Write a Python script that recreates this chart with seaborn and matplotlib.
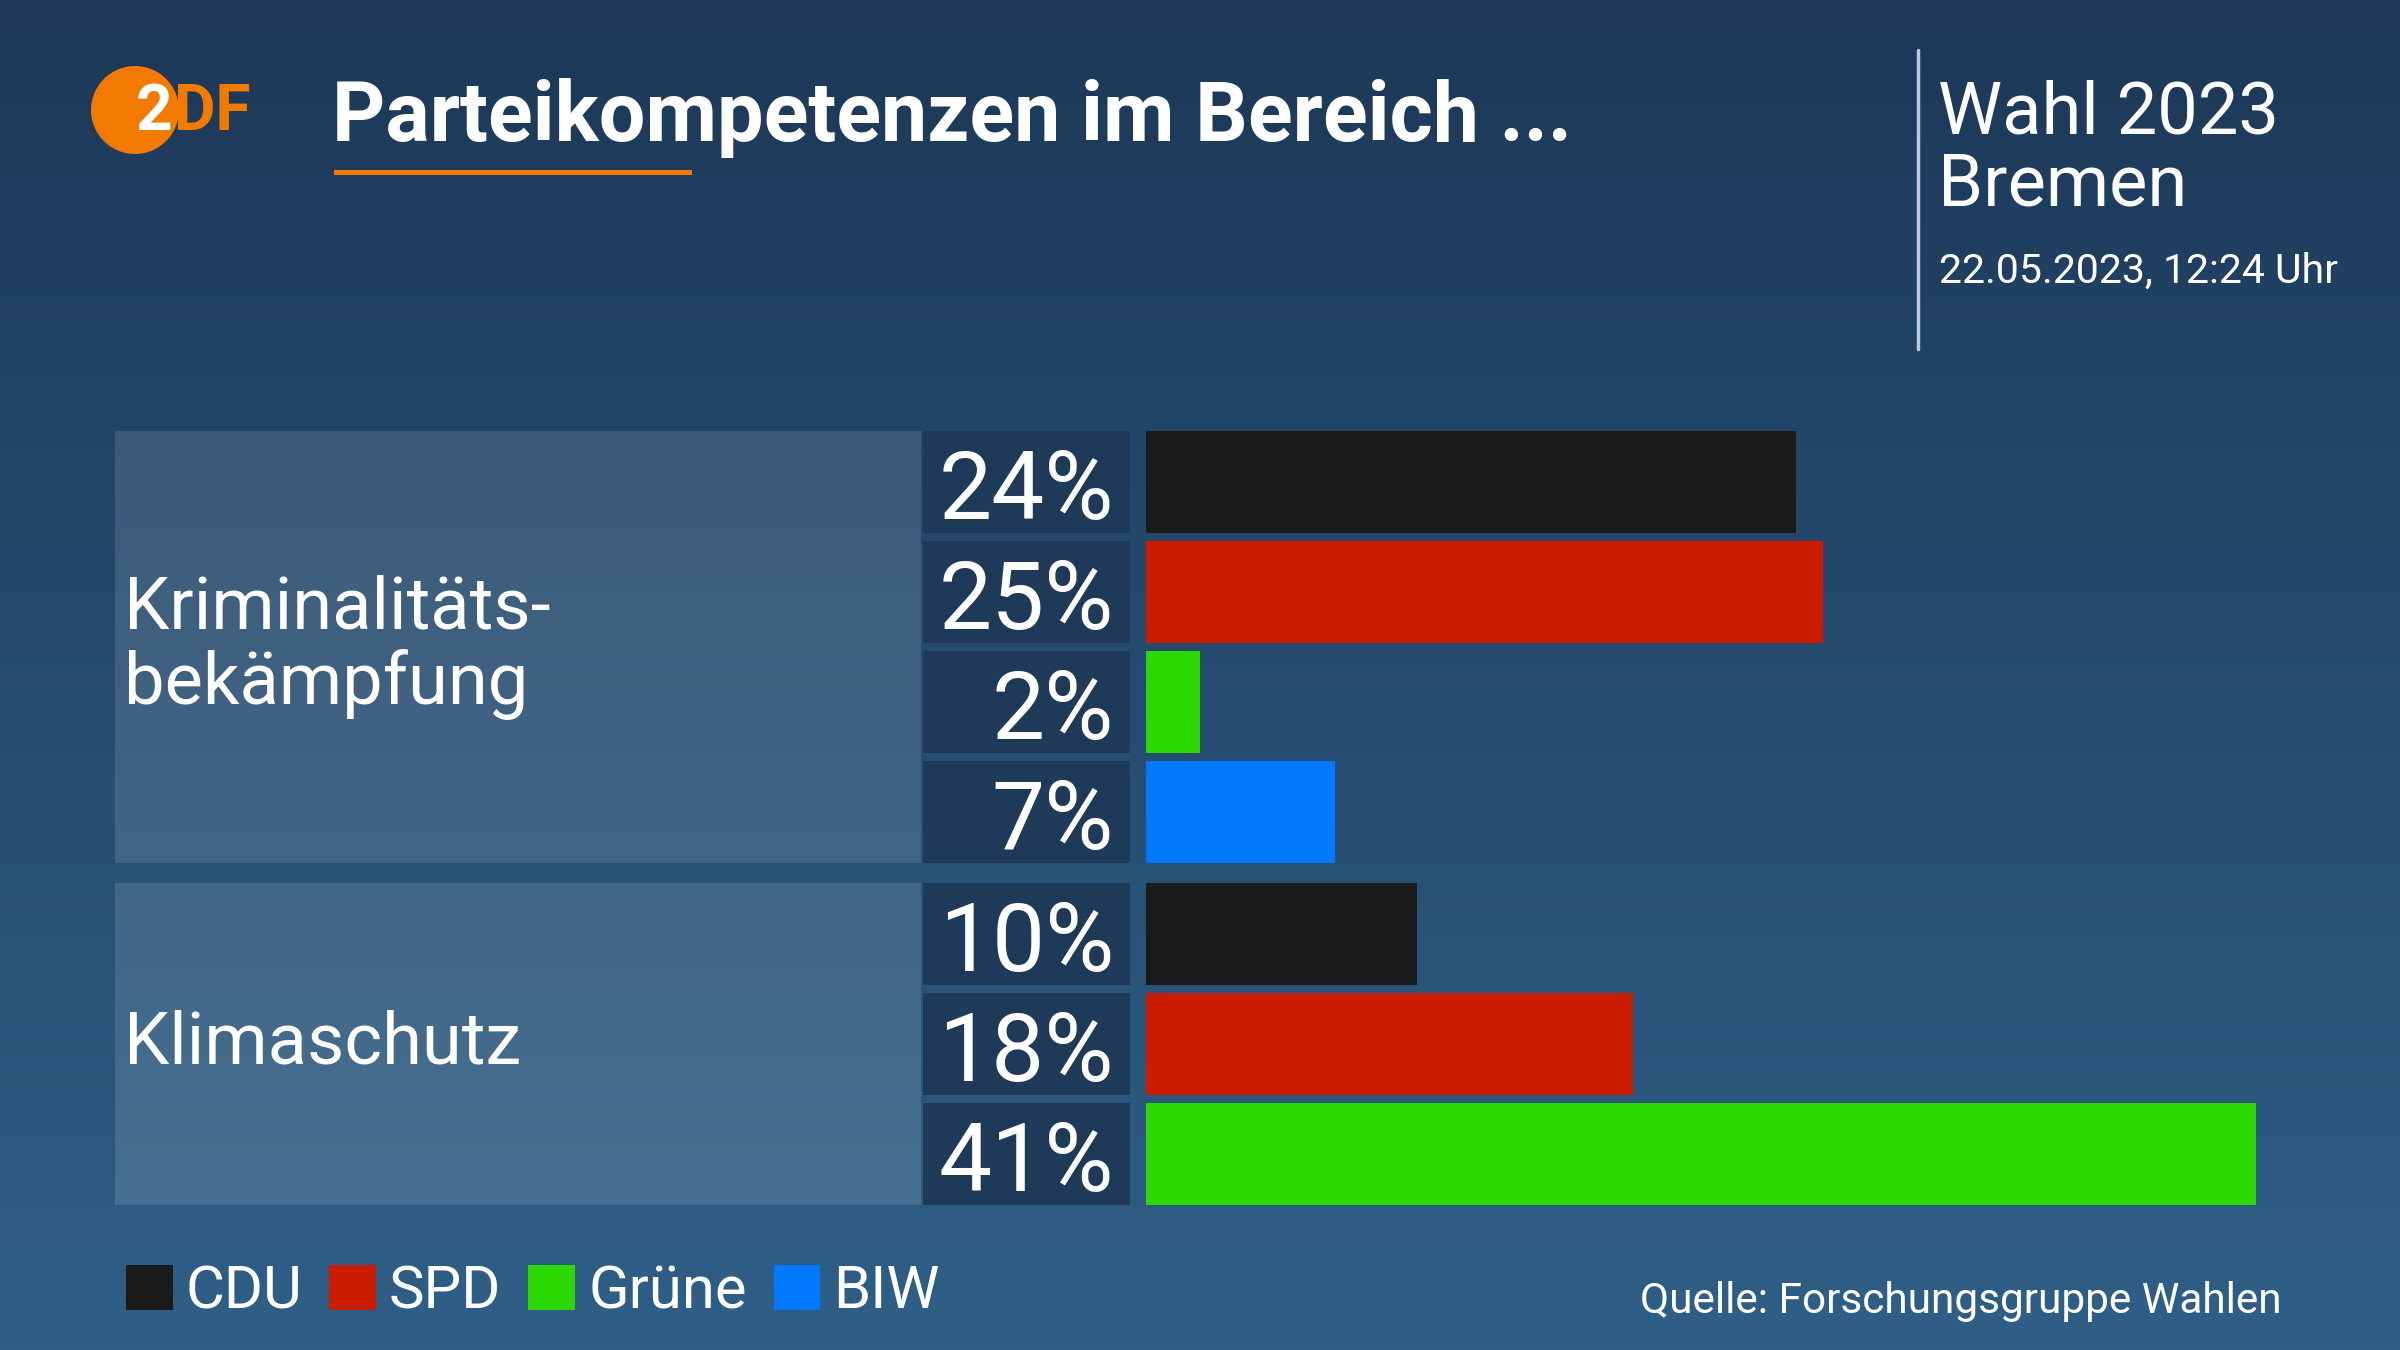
import numpy as np
import pandas as pd
import seaborn as sns
import matplotlib.pyplot as plt
from matplotlib.patches import Rectangle, Ellipse, Patch
from matplotlib.transforms import blended_transform_factory

# data
themen = ["Kriminalitäts-\nbekämpfung", "Klimaschutz"]
parteien = ["CDU", "SPD", "Grüne", "BIW"]
farben = ["#1b1b1b", "#cc1c00", "#2bd900", "#0078ff"]
krim_werte = [24, 25, 2, 7]
klima_werte = [10, 18, 41]

df = pd.DataFrame({
    "Thema": [themen[0]] * 4 + [themen[1]] * 3,
    "Partei": parteien + parteien[:3],
    "Anteil": krim_werte + klima_werte,
})
palette = dict(zip(parteien, farben))

sns.set_theme(style="white")
plt.rcParams["font.family"] = ["Roboto", "DejaVu Sans"]

W, H = 2400, 1350
fig = plt.figure(figsize=(24, 13.5), dpi=100)

def fx(px):
    return px / W

def fy(py):
    return 1 - py / H

# background gradient
bg = fig.add_axes([0, 0, 1, 1], zorder=-10)
top = np.array([0x1d, 0x38, 0x58]) / 255
bot = np.array([0x2f, 0x5f, 0x87]) / 255
t = np.linspace(0, 1, 256)[:, None]
grad = top + (bot - top) * t
bg.imshow(grad[:, None, :], aspect="auto", extent=[0, 1, 0, 1])
bg.axis("off")

# bar area: x=0 at px 1146, 27.07 px per percent
px_per_pct = 27.07
x0_px = 1146
x1_px = 2330
row_pitch = 110
bar_w = 102 / 110
group_top = [427, 879]

for i, thema in enumerate(themen):
    sub = df[df["Thema"] == thema]
    n = len(sub)
    ax_h = n * row_pitch
    ax = fig.add_axes([fx(x0_px), fy(group_top[i] + ax_h), fx(x1_px - x0_px), ax_h / H])
    sns.barplot(data=sub, x="Anteil", y="Partei", hue="Partei", palette=palette,
                orient="h", width=bar_w, saturation=1, legend=False,
                linewidth=0, edgecolor="none", ax=ax)
    ax.set_xlim(0, (x1_px - x0_px) / px_per_pct)
    ax.set_ylim(n - 0.5, -0.5)
    ax.axis("off")

    tr = blended_transform_factory(fig.transFigure, ax.transData)
    # topic panel
    ax.add_patch(Rectangle((fx(115), -bar_w / 2), fx(921 - 115), (n - 1) + bar_w,
                           transform=tr, facecolor="white", alpha=0.12,
                           edgecolor="none", clip_on=False, zorder=0))
    # value boxes and labels
    for j, v in enumerate(sub["Anteil"]):
        ax.add_patch(Rectangle((fx(923), j - bar_w / 2), fx(1130 - 923), bar_w,
                               transform=tr, facecolor="#1e3a58", edgecolor="none",
                               clip_on=False, zorder=0))
        ax.text(fx(1114), j + 0.01, f"{v}%", transform=tr, ha="right",
                va="center_baseline", color="white", fontsize=68, clip_on=False)
    tr2 = blended_transform_factory(fig.transFigure, ax.transAxes)
    ax.text(fx(124), 0.5, thema, transform=tr2, ha="left", va="center",
            color="white", fontsize=52, linespacing=1.1)

# ZDF logo
fig.add_artist(Ellipse((fx(135), fy(110)), 88 / W, 88 / H,
                       transform=fig.transFigure, facecolor="#f27a00",
                       edgecolor="none"))
fig.text(fx(136), fy(112), "2", color="white", fontsize=46, fontweight="bold",
         ha="left", va="center")
fig.text(fx(174), fy(112), "DF", color="#f27a00", fontsize=46, fontweight="bold",
         ha="left", va="center")

# title
fig.text(fx(332), fy(141), "Parteikompetenzen im Bereich ...", color="white",
         fontsize=59.5, fontweight="bold", ha="left", va="baseline")
fig.add_artist(Rectangle((fx(334), fy(175)), fx(692 - 334), 5 / H,
                         transform=fig.transFigure, facecolor="#f27a00",
                         edgecolor="none"))

# right info block
fig.add_artist(plt.Line2D([fx(1918), fx(1918)], [fy(50), fy(349)],
                          transform=fig.transFigure, color="#c0c8d2", lw=2.5))
fig.text(fx(1938), fy(133), "Wahl 2023", color="white", fontsize=52,
         ha="left", va="baseline")
fig.text(fx(1938), fy(205), "Bremen", color="white", fontsize=52,
         ha="left", va="baseline")
fig.text(fx(1939), fy(283), "22.05.2023, 12:24 Uhr", color="white", fontsize=29.5,
         ha="left", va="baseline")

# legend
handles = [Patch(facecolor=c, edgecolor="none", label=p) for p, c in zip(parteien, farben)]
fig.legend(handles=handles, loc="center left", bbox_to_anchor=(fx(126), fy(1292)),
           ncol=4, frameon=False, fontsize=43, handlelength=0.78, handleheight=0.78,
           handletextpad=0.22, columnspacing=0.45, borderpad=0, borderaxespad=0,
           labelcolor="white")

fig.text(fx(2282), fy(1301), "Quelle: Forschungsgruppe Wahlen", color="white",
         fontsize=30.5, ha="right", va="center")

fig.savefig("out.png", dpi=100)
